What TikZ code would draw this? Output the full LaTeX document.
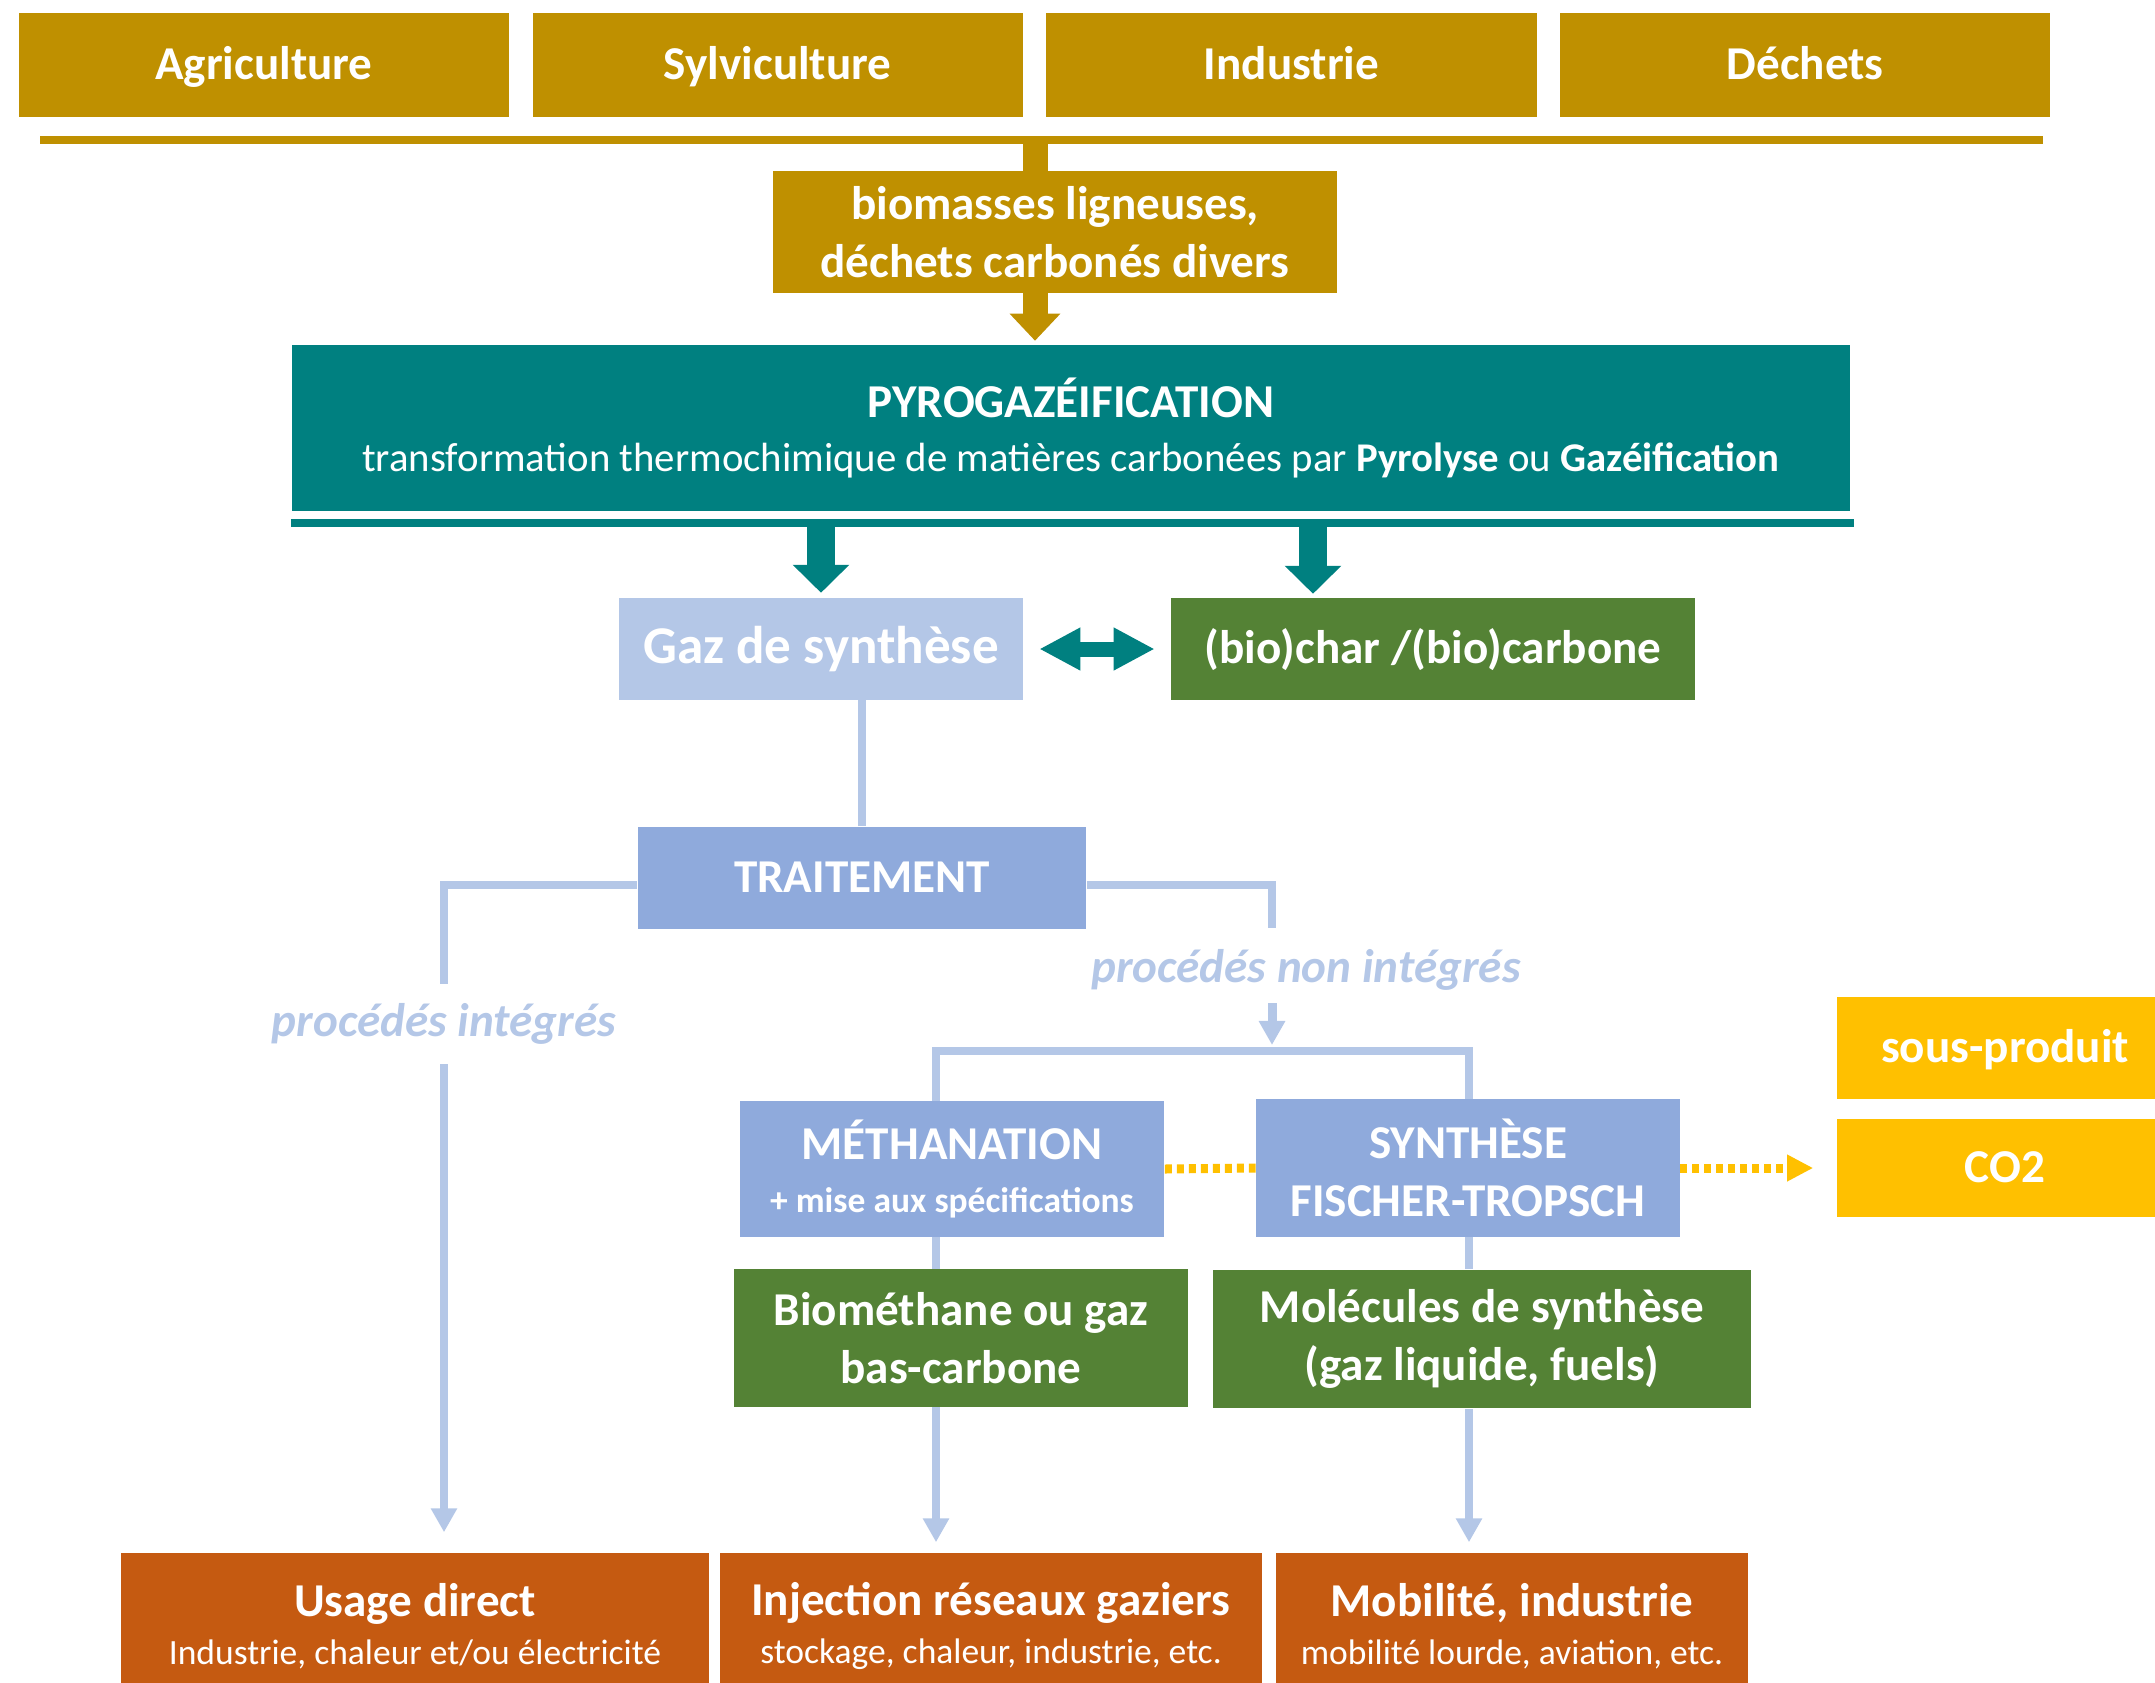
\documentclass[tikz,border=0pt]{standalone}
\usepackage{fontspec}
\setmainfont{Carlito}
\usetikzlibrary{arrows.meta, positioning, calc}
\definecolor{pg-gold}{RGB}{191,144,0}
\definecolor{pg-teal}{RGB}{0,128,128}
\definecolor{pg-sky}{RGB}{180,199,231}
\definecolor{pg-blue}{RGB}{143,170,220}
\definecolor{pg-green}{RGB}{84,130,53}
\definecolor{pg-yellow}{RGB}{255,192,0}
\definecolor{pg-rust}{RGB}{197,90,17}
\newcommand{\txtL}{\fontsize{13.4}{16.3}\selectfont}
\newcommand{\txtS}{\fontsize{10.1}{12}\selectfont}

\begin{document}
\begin{tikzpicture}[
    x=0.01cm, y=-0.01cm,
    box/.style={rectangle, inner sep=0pt, align=center, text=white, font=\txtL\bfseries},
    oneline/.style={text height=1.9ex, text depth=0.22ex},
    src/.style={box, oneline, fill=pg-gold, minimum width=4.9cm, minimum height=1.04cm},
    usebox/.style={box, fill=pg-rust, minimum width=5.87cm, minimum height=1.46cm, font=\bfseries\fontsize{13.4}{13.7}\selectfont},
    proc/.style={inner sep=0pt, text=pg-sky, font=\txtL\bfseries\itshape},
    bline/.style={draw=pg-sky, line width=0.08cm},
    barrow/.style={bline, -{Triangle[length=0.24cm, width=0.25cm]}},
    goldarrow/.style={draw=pg-gold, line width=0.25cm, -{Triangle[length=0.27cm, width=0.49cm]}},
    tealarrow/.style={draw=pg-teal, line width=0.28cm, -{Triangle[length=0.28cm, width=0.55cm]}},
    dotline/.style={draw=pg-yellow, line width=0.09cm, dash pattern=on 0.07cm off 0.05cm}
]
\useasboundingbox (0,0) rectangle (2155,1682);

% sources
\node[src] (agri) at (264,65) {Agriculture};
\node[src, right=0.22cm of agri] (sylvi) {Sylviculture};
\node[src, right=0.22cm of sylvi] (indus) {Industrie};
\node[src, right=0.22cm of indus] (dechets) {Déchets};
\draw[pg-gold, line width=0.08cm] (40,140) coordinate (barL) -- (2043,140) coordinate (barR);
\coordinate (stub) at (1035,140);

\node[box, fill=pg-gold, minimum width=5.64cm, minimum height=1.21cm] (biomasse) at (1055,232) {biomasses ligneuses,\\déchets carbonés divers};
\draw[pg-gold, line width=0.25cm] (stub) -- (stub |- biomasse.north);

% pyrogazeification
\node[box, fill=pg-teal, minimum width=15.58cm, minimum height=1.65cm, font=\bfseries\fontsize{13.4}{15.6}\selectfont] (pyro) at (1071,428)
  {PYROGAZÉIFICATION\\{\mdseries\fontsize{11.6}{14}\selectfont transformation thermochimique de matières carbonées par \textbf{Pyrolyse} ou \textbf{Gazéification}}};
\draw[goldarrow, shorten >=0.04cm] (stub |- biomasse.south) -- (stub |- pyro.north);
\draw[pg-teal, line width=0.08cm] ($(pyro.south west)+(0,12)$) coordinate (pyrobar) -- ($(pyro.south east)+(3,12)$);

\node[box, oneline, fill=pg-sky, minimum width=4.03cm, minimum height=1.01cm, font=\bfseries\fontsize{15.1}{18}\selectfont] (gaz) at (821,649) {Gaz de synthèse};
\node[box, oneline, fill=pg-green, minimum width=5.23cm, minimum height=1.01cm] (biochar) at (1433,649) {(bio)char /(bio)carbone};
\coordinate (charcol) at (1313,600);

\draw[tealarrow, shorten >=0.05cm] ($(gaz.north |- pyrobar)+(0,4)$) -- (gaz.north);
\draw[tealarrow, shorten >=0.04cm] ($(charcol |- pyrobar)+(0,4)$) -- (charcol |- biochar.north);
\draw[pg-teal, line width=0.15cm, {Triangle[length=0.41cm, width=0.40cm]}-{Triangle[length=0.41cm, width=0.40cm]},
  shorten <=0.16cm, shorten >=0.16cm] (gaz.east) -- (biochar.west);

% traitement
\node[box, oneline, fill=pg-blue, minimum width=4.48cm, minimum height=1.02cm] (traitement) at (862,878) {TRAITEMENT};
\draw[bline] (traitement.north) -- (traitement.north |- gaz.south);

\node[proc, minimum height=0.79cm] (integ) at (444,1024) {procédés intégrés};
\node[proc] (nonint) at (1306,970) {procédés non intégrés};
\coordinate (nonTop) at (1272,928);
\coordinate (nonArr) at (1272,1003);
\coordinate (colM) at (936,1051);
\coordinate (colS) at (1469,1051);

\draw[bline] ($(traitement.west)+(0,7)$) -| (integ.north);
\draw[bline] ($(traitement.east)+(0,7)$) -| (nonTop);
\draw[barrow, line width=0.09cm, shorten >=0.06cm] (nonArr) -- (nonArr |- colS);

% voies non integrees
\node[box, fill=pg-blue, minimum width=4.24cm, minimum height=1.35cm, font=\bfseries\fontsize{13.4}{14.8}\selectfont] (meth) at (952,1169)
  {MÉTHANATION\\{\txtS + mise aux spécifications}};
\node[box, fill=pg-blue, minimum width=4.23cm, minimum height=1.37cm] (synth) at (1468,1168) {SYNTHÈSE\\FISCHER-TROPSCH};
\draw[bline] (colM |- meth.north) -- (colM) -- (colS) -- (colS |- synth.north);

\node[box, oneline, fill=pg-yellow, minimum width=3.36cm, minimum height=1.01cm] (sousprod) at (2005,1048) {sous-produit};
\node[box, oneline, fill=pg-yellow, minimum width=3.36cm, minimum height=0.98cm] (co2) at (2005,1168) {CO2};
\draw[dotline] (meth.east) -- (synth.west);
\draw[dotline, -{Triangle[length=0.26cm, width=0.25cm]}, shorten >=0.23cm] (synth.east) -- (co2.west);

\node[box, fill=pg-green, minimum width=4.53cm, minimum height=1.37cm] (biometh) at (961,1338) {Biométhane ou gaz\\bas-carbone};
\node[box, fill=pg-green, minimum width=5.38cm, minimum height=1.38cm] (molec) at (1482,1339) {Molécules de synthèse\\(gaz liquide, fuels)};
\draw[bline] (colM |- meth.south) -- (colM |- biometh.north);
\draw[bline] (colS |- synth.south) -- (colS |- molec.north);

% usages
\node[usebox] (usage) at (415,1626) {Usage direct\\{\mdseries\txtS Industrie, chaleur et/ou électricité}};
\node[usebox, minimum width=5.41cm] (inject) at (991,1626) {Injection réseaux gaziers\\{\mdseries\txtS stockage, chaleur, industrie, etc.}};
\node[usebox, minimum width=4.72cm] (mobil) at (1512,1626) {Mobilité, industrie\\{\mdseries\txtS mobilité lourde, aviation, etc.}};

\draw[barrow, shorten >=0.2cm] (integ.south) -- (integ.south |- usage.north);
\draw[barrow, shorten >=0.1cm] (colM |- biometh.south) -- (colM |- inject.north);
\draw[barrow, shorten >=0.1cm] (colS |- molec.south) -- (colS |- mobil.north);

\end{tikzpicture}
\end{document}
